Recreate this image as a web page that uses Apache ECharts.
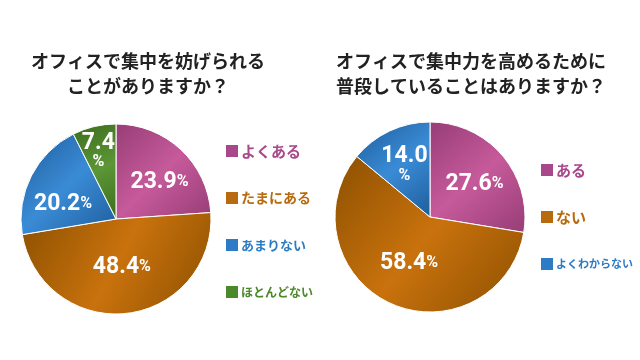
<!DOCTYPE html>
<html><head><meta charset="utf-8">
<script src="https://cdn.jsdelivr.net/npm/echarts@6/dist/echarts.min.js"></script>
<style>html,body{margin:0;padding:0;background:#fff}#c{width:640px;height:360px}</style>
</head><body><div id="c"></div>
<script>
var leftTitle = 'オフィスで集中を妨げられる\nことがありますか？';
var rightTitle = 'オフィスで集中力を高めるために\n普段していることはありますか？';
var leftCategories = ['よくある', 'たまにある', 'あまりない', 'ほとんどない'];
var leftValues = [23.9, 48.4, 20.2, 7.4];
var rightCategories = ['ある', 'ない', 'よくわからない'];
var rightValues = [27.6, 58.4, 14.0];

var font = '"Noto Sans CJK JP", "Noto Sans", sans-serif';
var leftColors = [['#973d76', '#c65a9a'], ['#8c5000', '#c9720d'], ['#1e5d9b', '#3a8bd6'], ['#3c6c1d', '#5c9636']];
var rightColors = [['#973d76', '#c65a9a'], ['#8c5000', '#c9720d'], ['#1e5d9b', '#3a8bd6']];
var legendColorsL = ['#a8488a', '#b76a0e', '#2c7bc4', '#4b892b'];
var legendColorsR = ['#a8488a', '#b76a0e', '#2c7bc4'];
var legendSizesL = [15, 14, 13, 12];
var legendSizesR = [15, 15, 11];
var leftOffsets = [[9, 0], [0, -2], [-8, 8], [-6, -18]];
var rightOffsets = [[6, 0], [0, 0], [-4, -6]];

function grad(c) {
  return new echarts.graphic.LinearGradient(0, 0, 1, 1, [
    {offset: 0, color: c[0]}, {offset: 0.5, color: c[1]}, {offset: 1, color: c[0]}
  ]);
}
function build(cats, vals, cols, offs, stacked) {
  return cats.map(function (n, i) {
    var txt = vals[i].toFixed(1);
    var two = stacked.indexOf(i) >= 0;
    return {
      name: n, value: vals[i],
      itemStyle: {color: grad(cols[i])},
      label: {offset: offs[i], formatter: two ? '{v|' + txt + '}\n{p|%}' : '{v|' + txt + '}{p|%}'}
    };
  });
}
var rich = {
  v: {color: '#fff', fontSize: 23, fontWeight: 'bold', fontFamily: 'Roboto, "DejaVu Sans", sans-serif', lineHeight: 21},
  p: {color: '#fff', fontSize: 16, fontWeight: 'bold', fontFamily: 'Roboto, "DejaVu Sans", sans-serif', lineHeight: 18}
};
function legendData(cats, cols, sizes) {
  return cats.map(function (n, i) {
    return {name: n, itemStyle: {color: cols[i]},
      textStyle: {color: cols[i], fontSize: sizes[i], fontWeight: 'bold', fontFamily: font}};
  });
}
var chart = echarts.init(document.getElementById('c'));
chart.setOption({
  animation: false,
  title: [
    {text: leftTitle, left: 143, top: 44, textAlign: 'center',
     textStyle: {fontFamily: font, fontSize: 18, fontWeight: 'bold', color: '#222', lineHeight: 25, align: 'center'}},
    {text: rightTitle, left: 331, top: 44,
     textStyle: {fontFamily: font, fontSize: 18, fontWeight: 'bold', color: '#222', lineHeight: 25}}
  ],
  legend: [
    {orient: 'vertical', left: 219, top: 138, itemWidth: 14, itemHeight: 14, itemGap: 31, icon: 'rect',
     selectedMode: false, data: legendData(leftCategories, legendColorsL, legendSizesL),
     textStyle: {fontFamily: font, fontSize: 15, fontWeight: 'bold', padding: [0, 0, 0, -3]}},
    {orient: 'vertical', left: 534, top: 157, itemWidth: 14, itemHeight: 14, itemGap: 31, icon: 'rect',
     selectedMode: false, data: legendData(rightCategories, legendColorsR, legendSizesR),
     textStyle: {fontFamily: font, fontSize: 15, fontWeight: 'bold', padding: [0, 0, 0, -3]}}
  ],
  series: [
    {type: 'pie', center: [116, 219], radius: 95, startAngle: 90, clockwise: true,
     itemStyle: {borderColor: '#fff', borderWidth: 1},
     label: {position: 'inside', rich: rich},
     labelLine: {show: false},
     emphasis: {disabled: true},
     data: build(leftCategories, leftValues, leftColors, leftOffsets, [3])},
    {type: 'pie', center: [430, 217], radius: 95, startAngle: 90, clockwise: true,
     itemStyle: {borderColor: '#fff', borderWidth: 1},
     label: {position: 'inside', rich: rich},
     labelLine: {show: false},
     emphasis: {disabled: true},
     data: build(rightCategories, rightValues, rightColors, rightOffsets, [2])}
  ]
});
</script></body></html>
